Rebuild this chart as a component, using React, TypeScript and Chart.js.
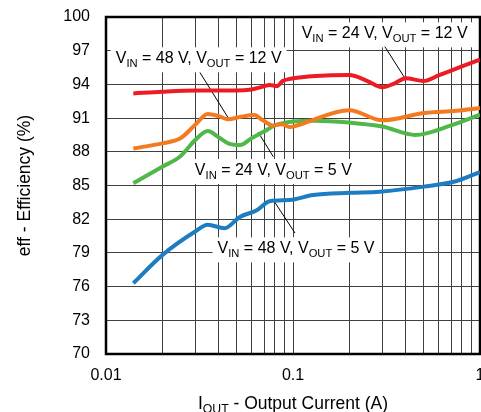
import { useEffect, useRef } from 'react';
import { Chart, registerables } from 'chart.js';

Chart.register(...registerables);

const FONT = "Arial, 'Liberation Sans', Helvetica, sans-serif";

// VIN = 24 V, VOUT = 12 V (red)
const redX = [0.014, 0.02, 0.03, 0.04, 0.05, 0.06, 0.069, 0.075, 0.082, 0.088, 0.097, 0.12, 0.15, 0.2, 0.25, 0.3, 0.35, 0.4, 0.5, 0.6, 0.8, 1];
const redY = [93.2, 93.35, 93.45, 93.45, 93.45, 93.55, 93.8, 93.95, 93.85, 94.3, 94.5, 94.7, 94.8, 94.83, 94.3, 93.74, 94.1, 94.55, 94.3, 94.8, 95.6, 96.2];

// VIN = 48 V, VOUT = 12 V (orange)
const orangeX = [0.014, 0.02, 0.025, 0.03, 0.035, 0.04, 0.045, 0.052, 0.062, 0.069, 0.078, 0.087, 0.097, 0.11, 0.2, 0.3, 0.5, 0.75, 1];
const orangeY = [88.3, 88.75, 89.2, 90.4, 91.36, 91.18, 90.9, 91.1, 91.27, 90.8, 90.35, 90.45, 90.2, 90.45, 91.7, 90.8, 91.45, 91.65, 91.9];

// VIN = 24 V, VOUT = 5 V (green)
const greenX = [0.014, 0.02, 0.025, 0.03, 0.035, 0.04, 0.045, 0.052, 0.06, 0.07, 0.08, 0.1, 0.13, 0.2, 0.3, 0.45, 0.7, 1];
const greenY = [85.2, 86.67, 87.6, 89.05, 89.85, 89.3, 88.75, 88.6, 89.2, 89.8, 90.35, 90.7, 90.77, 90.6, 90.25, 89.5, 90.35, 91.3];

// VIN = 48 V, VOUT = 5 V (blue)
const blueX = [0.014, 0.02, 0.03, 0.035, 0.043, 0.052, 0.064, 0.075, 0.096, 0.128, 0.2, 0.29, 0.5, 0.75, 1];
const blueY = [76.3, 78.8, 80.9, 81.5, 81.2, 82.2, 82.8, 83.6, 83.7, 84.15, 84.35, 84.45, 84.9, 85.4, 86.2];

const seriesColors = ['#ED1C24', '#F47A20', '#50B848', '#1E7CC2'];

// Axis ticks
const xGridValues = [0.01, 0.02, 0.03, 0.04, 0.05, 0.06, 0.07, 0.08, 0.09, 0.1, 0.2, 0.3, 0.4, 0.5, 0.6, 0.7, 0.8, 0.9, 1];
const xLabelValues = [0.01, 0.1, 1];
const xLabelTexts = ['0.01', '0.1', '1'];
const yMin = 70;
const yMax = 100;
const yStep = 3;

const yTitle = 'eff - Efficiency (%)';
const xTitleMain = 'I';
const xTitleSub = 'OUT';
const xTitleRest = ' - Output Current (A)';

// Annotations (VIN / VOUT labels with leader lines)
const annoVin = [48, 24, 24, 48];
const annoVout = [12, 12, 5, 5];
const annoX = [0.0313, 0.309, 0.0785, 0.1038];
const annoY = [95.88, 98.1, 85.93, 78.96];
const leaderFrom = [[0.0318, 95.06], [0.31, 97.36], [0.0785, 87.56], [0.1025, 80.77]];
const leaderTo = [[0.0452, 90.98], [0.397, 94.54], [0.065, 89.76], [0.0791, 83.62]];

type Part = [string, boolean];

function drawRich(ctx: CanvasRenderingContext2D, parts: Part[], cx: number, baseline: number, size: number) {
  const subSize = size * 0.7;
  const widths = parts.map(([t, sub]) => {
    ctx.font = `${sub ? subSize : size}px ${FONT}`;
    return ctx.measureText(t).width;
  });
  const w = widths.reduce((a, b) => a + b, 0);
  let x = cx - w / 2;
  ctx.textAlign = 'left';
  ctx.textBaseline = 'alphabetic';
  parts.forEach(([t, sub], i) => {
    ctx.font = `${sub ? subSize : size}px ${FONT}`;
    ctx.fillText(t, x, baseline + (sub ? size * 0.25 : 0));
    x += widths[i];
  });
  return w;
}

function measureRich(ctx: CanvasRenderingContext2D, parts: Part[], size: number) {
  let w = 0;
  parts.forEach(([t, sub]) => {
    ctx.font = `${sub ? size * 0.7 : size}px ${FONT}`;
    w += ctx.measureText(t).width;
  });
  return w;
}

const decorPlugin = {
  id: 'decor',
  beforeDatasetsDraw(chart: any) {
    const { ctx, chartArea: a, scales } = chart;
    const xs = scales.x;
    const ys = scales.y;
    ctx.save();
    // frame
    ctx.strokeStyle = '#000';
    ctx.lineWidth = 2.5;
    ctx.strokeRect(a.left, a.top, a.right - a.left, a.bottom - a.top);

    const size = 16;
    annoVin.forEach((vin, i) => {
      const parts: Part[] = [['V', false], ['IN', true], [` = ${vin} V, V`, false], ['OUT', true], [` = ${annoVout[i]} V`, false]];
      const cx = xs.getPixelForValue(annoX[i]);
      const by = ys.getPixelForValue(annoY[i]);
      const w = measureRich(ctx, parts, size);
      ctx.fillStyle = '#fff';
      ctx.fillRect(cx - w / 2 - 5, by - 16, w + 10, 25);
      ctx.fillStyle = '#000';
      drawRich(ctx, parts, cx, by, size);
      ctx.strokeStyle = '#000';
      ctx.lineWidth = 1;
      ctx.beginPath();
      ctx.moveTo(xs.getPixelForValue(leaderFrom[i][0]), ys.getPixelForValue(leaderFrom[i][1]));
      ctx.lineTo(xs.getPixelForValue(leaderTo[i][0]), ys.getPixelForValue(leaderTo[i][1]));
      ctx.stroke();
    });
    ctx.restore();
  },
  afterDraw(chart: any) {
    const { ctx, chartArea: a } = chart;
    ctx.save();
    ctx.fillStyle = '#000';
    drawRich(ctx, [[xTitleMain, false], [xTitleSub, true], [xTitleRest, false]], (a.left + a.right) / 2, 409, 17.5);
    ctx.restore();
  },
};

export default function App() {
  const ref = useRef<HTMLCanvasElement | null>(null);
  useEffect(() => {
    if (!ref.current) return;
    const mk = (xv: number[], yv: number[], c: string) => ({
      data: xv.map((x, i) => ({ x, y: yv[i] })),
      borderColor: c,
      backgroundColor: c,
      borderWidth: 4,
      pointRadius: 0,
      cubicInterpolationMode: 'monotone' as const,
      fill: false,
    });
    const tickFont = { family: FONT, size: 16 };
    const chart = new Chart(ref.current, {
      type: 'line',
      data: {
        datasets: [
          mk(redX, redY, seriesColors[0]),
          mk(orangeX, orangeY, seriesColors[1]),
          mk(greenX, greenY, seriesColors[2]),
          mk(blueX, blueY, seriesColors[3]),
        ],
      },
      options: {
        animation: false,
        responsive: false,
        maintainAspectRatio: false,
        devicePixelRatio: 1,
        layout: { padding: { top: 17, right: 1, bottom: 0, left: 0 } },
        plugins: { legend: { display: false }, tooltip: { enabled: false } },
        scales: {
          x: {
            type: 'logarithmic',
            min: 0.01,
            max: 1,
            afterBuildTicks: (s: any) => {
              s.ticks = xGridValues.map((v) => ({ value: v }));
            },
            afterFit: (s: any) => {
              s.height = 58;
              s.paddingLeft = 0;
              s.paddingRight = 0;
            },
            grid: { color: '#404040', lineWidth: 1, drawTicks: false },
            border: { display: false },
            ticks: {
              autoSkip: false,
              maxRotation: 0,
              padding: 12,
              color: '#000',
              font: tickFont,
              callback: (v: any) => {
                const idx = xLabelValues.findIndex((lv) => Math.abs(lv - Number(v)) < 1e-9);
                return idx >= 0 ? xLabelTexts[idx] : '';
              },
            },
          },
          y: {
            min: yMin,
            max: yMax,
            afterFit: (s: any) => {
              s.width = 106;
              s.paddingTop = 0;
              s.paddingBottom = 0;
            },
            grid: { color: '#404040', lineWidth: 1, drawTicks: false },
            border: { display: false },
            ticks: { stepSize: yStep, padding: 16, color: '#000', font: tickFont },
            title: {
              display: true,
              text: yTitle,
              color: '#000',
              font: { family: FONT, size: 17.5 },
              padding: { top: 15, bottom: 0 },
            },
          },
        },
      },
      plugins: [decorPlugin],
    } as any);
    return () => chart.destroy();
  }, []);
  return (
    <div style={{ position: 'fixed', left: 0, top: 0, width: 481, height: 412, background: '#fff' }}>
      <canvas ref={ref} width={481} height={412} style={{ display: 'block' }} />
    </div>
  );
}
